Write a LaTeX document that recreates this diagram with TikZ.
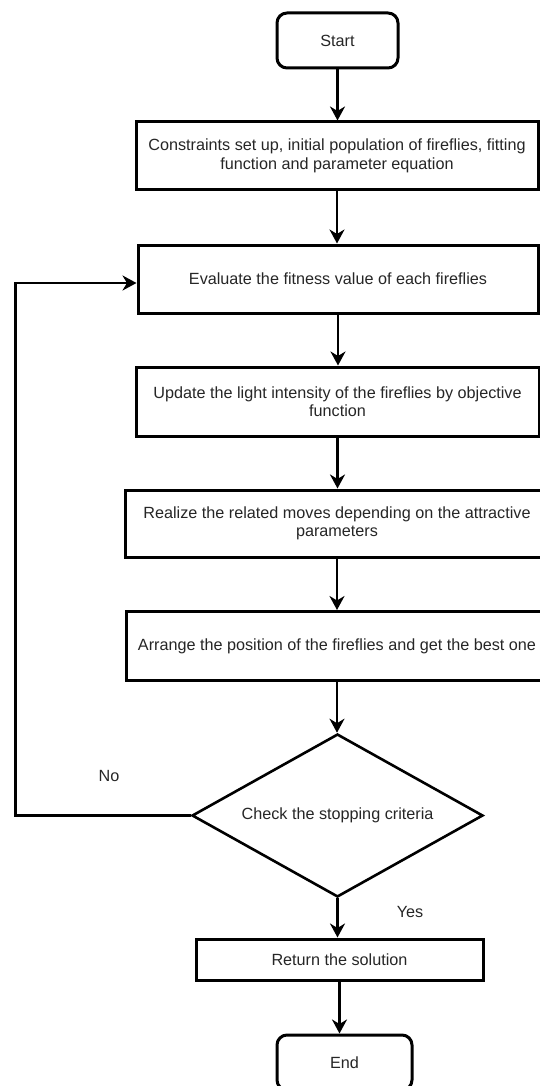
\documentclass[tikz,border=0pt]{standalone}
\usepackage{fontspec}
\setmainfont{Liberation Sans}
\usetikzlibrary{shapes.geometric,arrows.meta}
\begin{document}
\begin{tikzpicture}[x=1pt,y=-1pt,
  every node/.style={font=\fontsize{16.2}{18.5}\selectfont, text=black!85},
  procbox/.style={draw=black, line width=3pt, fill=white, align=center, inner sep=0pt},
  termbox/.style={procbox, rounded corners=10pt},
  decision/.style={draw=black, line width=2.6pt, fill=white, shape=diamond, aspect=1.785, inner sep=0pt},
  flow/.style={draw=black, line width=2.6pt, -{Stealth[length=14pt,width=15pt,inset=4.5pt]}},
  tag/.style={inner sep=0pt}]
\useasboundingbox (0,0) rectangle (540,1086);

% process steps
\node[termbox, minimum width=121pt, minimum height=55pt] (start) at (337.5,40.5) {Start};
\node[procbox, minimum width=402pt, minimum height=68pt] (init) at (337,156)
  {Constraints set up, initial population of fireflies, fitting\\function and parameter equation};
\node[procbox, minimum width=400pt, minimum height=68pt] (eval) at (338,279)
  {Evaluate the fitness value of each fireflies};
\node[procbox, minimum width=403pt, minimum height=69pt] (update) at (337.5,401.5)
  {Update the light intensity of the fireflies by objective\\function};
\node[procbox, minimum width=424pt, minimum height=67pt] (realize) at (337,523.5)
  {Realize the related moves depending on the attractive\\parameters};
\node[procbox, minimum width=422pt, minimum height=69pt] (arrange) at (337,646)
  {Arrange the position of the fireflies and get the best one};
\node[decision, minimum width=291pt, minimum height=163pt] (check) at (337.5,815.5)
  {Check the stopping criteria};
\node[procbox, minimum width=287pt, minimum height=41pt] (ret) at (339.5,959.5)
  {Return the solution};
\node[termbox, minimum width=135pt, minimum height=55pt] (finish) at (344.5,1062.5) {End};

% branch labels
\node[tag] (nolabel) at (109,776) {No};
\node[tag] (yeslabel) at (410,912) {Yes};

% connectors
\draw[flow] (start.south) -- (start.south |- init.north);
\draw[flow] (init.south) -- (init.south |- eval.north);
\draw[flow] (eval.south) -- (eval.south |- update.north);
\draw[flow] (update.south) -- (update.south |- realize.north);
\draw[flow] (realize.south) -- (realize.south |- arrange.north);
\draw[flow] (arrange.south) -- (arrange.south |- check.north);
\draw[flow] (check.south) -- (check.south |- ret.north);
\draw[flow] (ret.south) -- (ret.south |- finish.north);
\coordinate (loopcorner) at (15.5,815.5);
\draw[flow] (check.west) -- (loopcorner) |- ([yshift=-4pt]eval.west);
\end{tikzpicture}
\end{document}
